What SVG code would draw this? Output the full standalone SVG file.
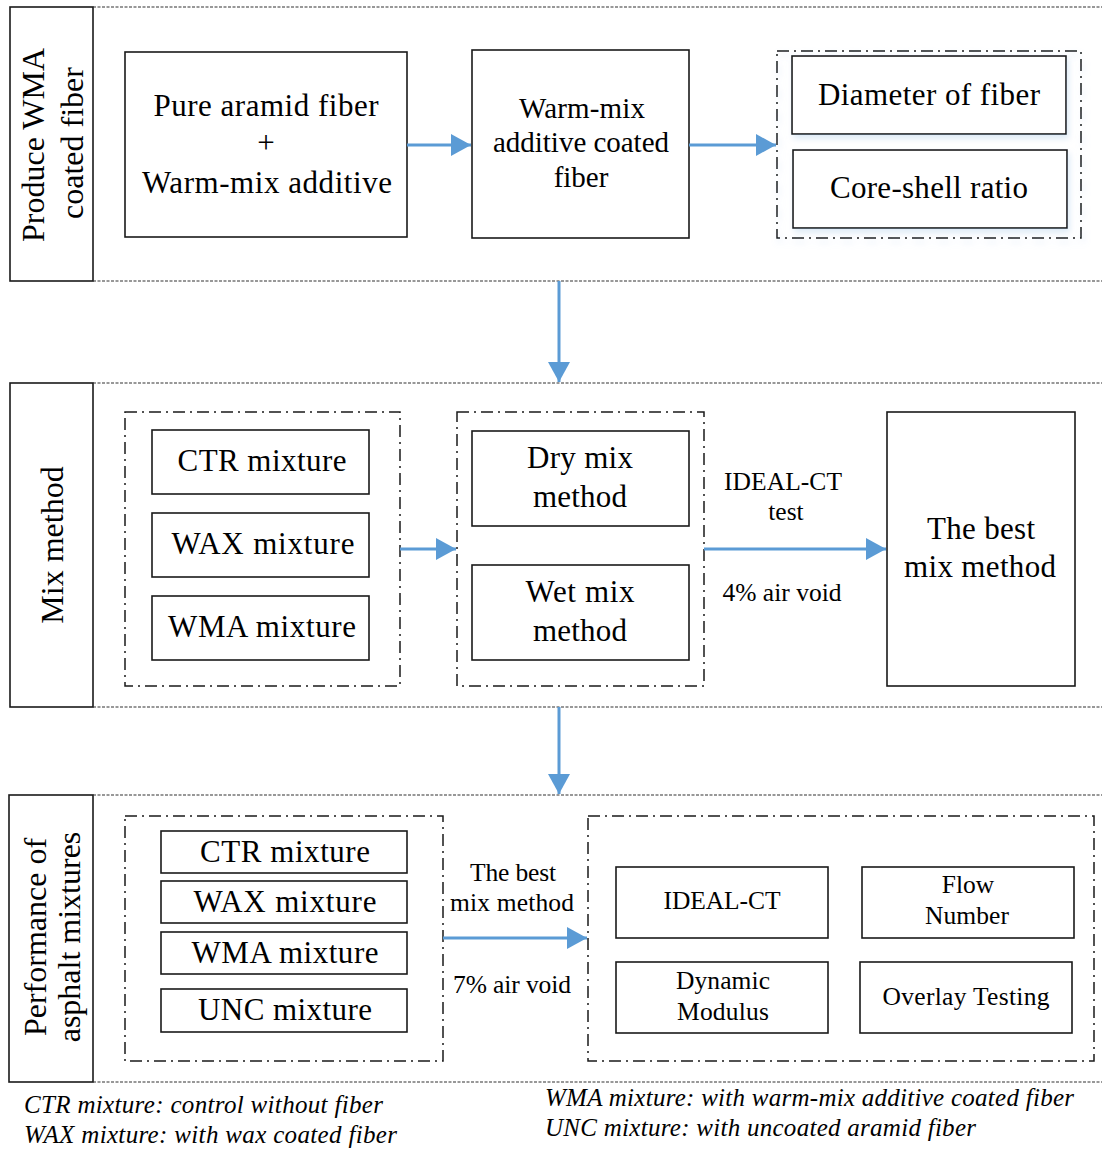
<svg xmlns="http://www.w3.org/2000/svg" width="1102" height="1149" viewBox="0 0 1102 1149">
<style>
.bx{fill:#fff;stroke:#1a1a1a;stroke-width:1.6}
.dd{fill:none;stroke:#1a1a1a;stroke-width:1.5;stroke-dasharray:12 5 2 5}
.sep{fill:none;stroke:#333;stroke-width:1.2;stroke-dasharray:3 1.5}
.t{font-family:"Liberation Serif","Times New Roman",serif;fill:#000;text-anchor:middle}
.T{font-size:32px}
.L{font-size:31px}
.M{font-size:29px}
.S{font-size:25.5px}
.I{font-family:"Liberation Serif","Times New Roman",serif;font-style:italic;font-size:25px;fill:#000}
.ar{fill:none;stroke:#5b9bd5;stroke-width:3}
</style>
<defs>
<marker id="ah" markerUnits="userSpaceOnUse" markerWidth="22" markerHeight="24" refX="20" refY="12" orient="auto">
<path d="M0,1 L20,12 L0,23 Z" fill="#5b9bd5"/>
</marker>
<filter id="glow" x="-10%" y="-10%" width="120%" height="130%">
<feDropShadow dx="2" dy="4" stdDeviation="3" flood-color="#9dc3e6" flood-opacity="0.35"/>
</filter>
</defs>
<rect width="1102" height="1149" fill="#fff"/>

<g id="sections">
<rect class="bx" x="10" y="7" width="83" height="274"/>
<line class="sep" x1="93" y1="7" x2="1102" y2="7"/>
<line class="sep" x1="93" y1="281" x2="1102" y2="281"/>
<text class="t T" transform="translate(44,145) rotate(-90)">Produce WMA</text>
<text class="t T" transform="translate(83,143) rotate(-90)">coated fiber</text>

<rect class="bx" x="10" y="383" width="83" height="324"/>
<line class="sep" x1="93" y1="383" x2="1102" y2="383"/>
<line class="sep" x1="93" y1="707" x2="1102" y2="707"/>
<text class="t T" transform="translate(63,545) rotate(-90)">Mix method</text>

<rect class="bx" x="9" y="795" width="84" height="287"/>
<line class="sep" x1="93" y1="795" x2="1102" y2="795"/>
<line class="sep" x1="93" y1="1082" x2="1102" y2="1082"/>
<text class="t T" transform="translate(46,937) rotate(-90)">Performance of</text>
<text class="t T" transform="translate(80,937) rotate(-90)">asphalt mixtures</text>
</g>

<g id="n-pure">
<rect class="bx" x="125" y="52" width="282" height="185"/>
<text class="t L" x="266" y="116" textLength="225" lengthAdjust="spacing">Pure aramid fiber</text>
<text class="t L" x="266" y="153">+</text>
<text class="t L" x="267" y="193" textLength="250" lengthAdjust="spacing">Warm-mix additive</text>
</g>

<g id="n-coated">
<rect class="bx" x="472" y="50" width="217" height="188"/>
<text class="t M" x="582" y="118" textLength="126" lengthAdjust="spacing">Warm-mix</text>
<text class="t M" x="581" y="152" textLength="176" lengthAdjust="spacing">additive coated</text>
<text class="t M" x="581" y="187">fiber</text>
</g>

<g id="n-params">
<rect class="dd" x="777" y="51" width="304" height="187" filter="url(#glow)"/>
<rect class="bx" x="792" y="56" width="274" height="78" filter="url(#glow)"/>
<text class="t L" x="929" y="105" textLength="222" lengthAdjust="spacing">Diameter of fiber</text>
<rect class="bx" x="793" y="150" width="274" height="78" filter="url(#glow)"/>
<text class="t L" x="929" y="198" textLength="198" lengthAdjust="spacing">Core-shell ratio</text>
</g>

<g id="n-mixtures1">
<rect class="dd" x="125" y="412" width="275" height="274"/>
<rect class="bx" x="152" y="430" width="217" height="64"/>
<text class="t L" x="262" y="471" textLength="169" lengthAdjust="spacing">CTR mixture</text>
<rect class="bx" x="152" y="513" width="217" height="64"/>
<text class="t L" x="263" y="554" textLength="183" lengthAdjust="spacing">WAX mixture</text>
<rect class="bx" x="152" y="596" width="217" height="64"/>
<text class="t L" x="262" y="637" textLength="188" lengthAdjust="spacing">WMA mixture</text>
</g>

<g id="n-methods">
<rect class="dd" x="457" y="412" width="247" height="274"/>
<rect class="bx" x="472" y="431" width="217" height="95"/>
<text class="t L" x="580" y="468" textLength="106" lengthAdjust="spacing">Dry mix</text>
<text class="t L" x="580" y="507" textLength="94" lengthAdjust="spacing">method</text>
<rect class="bx" x="472" y="565" width="217" height="95"/>
<text class="t L" x="580" y="602" textLength="109" lengthAdjust="spacing">Wet mix</text>
<text class="t L" x="580" y="641" textLength="94" lengthAdjust="spacing">method</text>
</g>

<g id="n-best">
<rect class="bx" x="887" y="412" width="188" height="274"/>
<text class="t L" x="981" y="539" textLength="108" lengthAdjust="spacing">The best</text>
<text class="t L" x="980" y="577" textLength="152" lengthAdjust="spacing">mix method</text>
</g>

<g id="n-mixtures2">
<rect class="dd" x="125" y="816" width="318" height="245"/>
<rect class="bx" x="161" y="831" width="246" height="42"/>
<text class="t L" x="285" y="862" textLength="170" lengthAdjust="spacing">CTR mixture</text>
<rect class="bx" x="161" y="881" width="246" height="42"/>
<text class="t L" x="285" y="912" textLength="183" lengthAdjust="spacing">WAX mixture</text>
<rect class="bx" x="161" y="932" width="246" height="42"/>
<text class="t L" x="285" y="963" textLength="187" lengthAdjust="spacing">WMA mixture</text>
<rect class="bx" x="161" y="989" width="246" height="43"/>
<text class="t L" x="285" y="1020" textLength="174" lengthAdjust="spacing">UNC mixture</text>
</g>

<g id="n-tests">
<rect class="dd" x="588" y="816" width="506" height="245"/>
<rect class="bx" x="616" y="867" width="212" height="71"/>
<text class="t S" x="722" y="909" textLength="117" lengthAdjust="spacing">IDEAL-CT</text>
<rect class="bx" x="862" y="867" width="212" height="71"/>
<text class="t S" x="968" y="893">Flow</text>
<text class="t S" x="967" y="924" textLength="84" lengthAdjust="spacing">Number</text>
<rect class="bx" x="616" y="962" width="212" height="71"/>
<text class="t S" x="723" y="989" textLength="94" lengthAdjust="spacing">Dynamic</text>
<text class="t S" x="723" y="1020" textLength="92" lengthAdjust="spacing">Modulus</text>
<rect class="bx" x="860" y="962" width="212" height="71"/>
<text class="t S" x="966" y="1005" textLength="167" lengthAdjust="spacing">Overlay Testing</text>
</g>

<g id="connectors">
<line class="ar" x1="407" y1="145" x2="471" y2="145" marker-end="url(#ah)"/>
<line class="ar" x1="689" y1="145" x2="776" y2="145" marker-end="url(#ah)"/>
<line class="ar" x1="559" y1="281" x2="559" y2="382" marker-end="url(#ah)"/>
<line class="ar" x1="400" y1="549" x2="456" y2="549" marker-end="url(#ah)"/>
<line class="ar" x1="704" y1="549" x2="886" y2="549" marker-end="url(#ah)"/>
<line class="ar" x1="559" y1="707" x2="559" y2="794" marker-end="url(#ah)"/>
<line class="ar" x1="443" y1="938" x2="587" y2="938" marker-end="url(#ah)"/>
<text class="t S" x="783" y="490" textLength="118" lengthAdjust="spacing">IDEAL-CT</text>
<text class="t S" x="786" y="520">test</text>
<text class="t S" x="782" y="601" textLength="119" lengthAdjust="spacing">4% air void</text>
<text class="t S" x="513" y="881" textLength="86" lengthAdjust="spacing">The best</text>
<text class="t S" x="512" y="911" textLength="124" lengthAdjust="spacing">mix method</text>
<text class="t S" x="512" y="993" textLength="118" lengthAdjust="spacing">7% air void</text>
</g>

<g id="legend">
<text class="I" x="24" y="1113" textLength="359" lengthAdjust="spacing">CTR mixture: control without fiber</text>
<text class="I" x="24" y="1143" textLength="373" lengthAdjust="spacing">WAX mixture: with wax coated fiber</text>
<text class="I" x="545" y="1106" textLength="529" lengthAdjust="spacing">WMA mixture: with warm-mix additive coated fiber</text>
<text class="I" x="545" y="1136" textLength="431" lengthAdjust="spacing">UNC mixture: with uncoated aramid fiber</text>
</g>
</svg>
